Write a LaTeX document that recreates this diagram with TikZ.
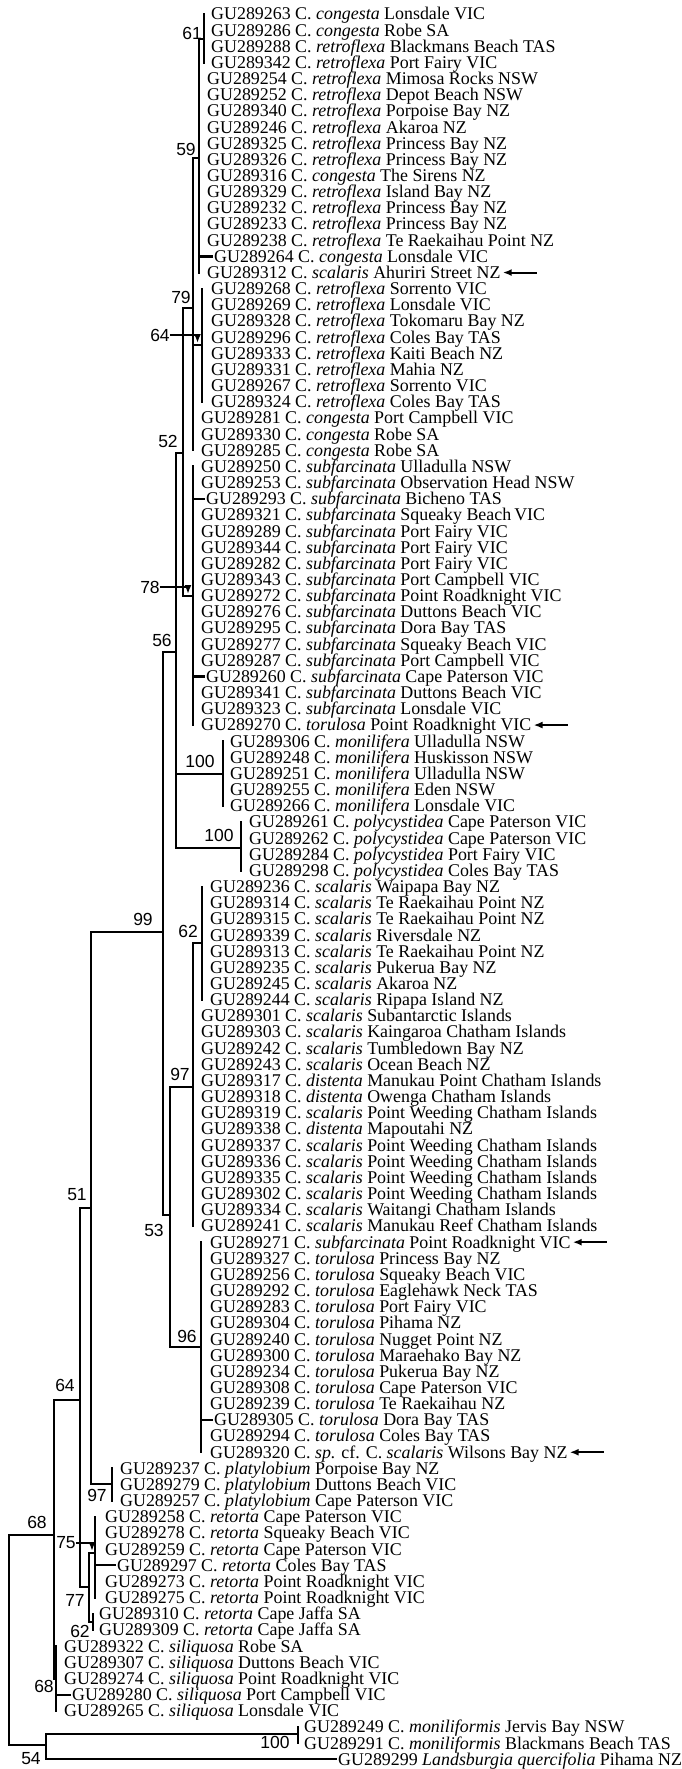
\documentclass[tikz,border=0pt]{standalone}
\usepackage{fontspec}
\setmainfont{Liberation Serif}
\newfontfamily\bsfont{Liberation Sans}
\usetikzlibrary{arrows.meta}
\tikzset{
  leaf/.style={anchor=west, inner xsep=2pt, inner ysep=0pt, text height=11.8pt, text depth=0pt,
    font=\fontsize{17.9}{18}\selectfont},
  bs/.style={inner sep=0pt, font=\bsfont\fontsize{17.5}{18}\selectfont},
  br/.style={line width=2.2pt, line cap=rect},
  pt/.style={line width=2pt, -{Latex[length=9pt,width=7pt]}},
}
\begin{document}
\begin{tikzpicture}[x=1pt, y=-1pt]
  \useasboundingbox (0,0) rectangle (681,1769);
  % taxa
  \foreach \i/\x/\lab in {
    1/209/{GU289263 C. \textit{congesta} Lonsdale VIC},
    2/209/{GU289286 C. \textit{congesta} Robe SA},
    3/209/{GU289288 C. \textit{retroflexa} Blackmans Beach TAS},
    4/209/{GU289342 C. \textit{retroflexa} Port Fairy VIC},
    5/205/{GU289254 C. \textit{retroflexa} Mimosa Rocks NSW},
    6/205/{GU289252 C. \textit{retroflexa} Depot Beach NSW},
    7/205/{GU289340 C. \textit{retroflexa} Porpoise Bay NZ},
    8/205/{GU289246 C. \textit{retroflexa} Akaroa NZ},
    9/205/{GU289325 C. \textit{retroflexa} Princess Bay NZ},
    10/205/{GU289326 C. \textit{retroflexa} Princess Bay NZ},
    11/205/{GU289316 C. \textit{congesta} The Sirens NZ},
    12/205/{GU289329 C. \textit{retroflexa} Island Bay NZ},
    13/205/{GU289232 C. \textit{retroflexa} Princess Bay NZ},
    14/205/{GU289233 C. \textit{retroflexa} Princess Bay NZ},
    15/205/{GU289238 C. \textit{retroflexa} Te Raekaihau Point NZ},
    16/212/{GU289264 C. \textit{congesta} Lonsdale VIC},
    17/205/{GU289312 C. \textit{scalaris} Ahuriri Street NZ},
    18/209/{GU289268 C. \textit{retroflexa} Sorrento VIC},
    19/209/{GU289269 C. \textit{retroflexa} Lonsdale VIC},
    20/209/{GU289328 C. \textit{retroflexa} Tokomaru Bay NZ},
    21/209/{GU289296 C. \textit{retroflexa} Coles Bay TAS},
    22/209/{GU289333 C. \textit{retroflexa} Kaiti Beach NZ},
    23/209/{GU289331 C. \textit{retroflexa} Mahia NZ},
    24/209/{GU289267 C. \textit{retroflexa} Sorrento VIC},
    25/209/{GU289324 C. \textit{retroflexa} Coles Bay TAS},
    26/199/{GU289281 C. \textit{congesta} Port Campbell VIC},
    27/199/{GU289330 C. \textit{congesta} Robe SA},
    28/199/{GU289285 C. \textit{congesta} Robe SA},
    29/199/{GU289250 C. \textit{subfarcinata} Ulladulla NSW},
    30/199/{GU289253 C. \textit{subfarcinata} Observation Head NSW},
    31/204/{GU289293 C. \textit{subfarcinata} Bicheno TAS},
    32/199/{GU289321 C. \textit{subfarcinata} Squeaky Beach\,VIC},
    33/199/{GU289289 C. \textit{subfarcinata} Port Fairy VIC},
    34/199/{GU289344 C. \textit{subfarcinata} Port Fairy VIC},
    35/199/{GU289282 C. \textit{subfarcinata} Port Fairy VIC},
    36/199/{GU289343 C. \textit{subfarcinata} Port Campbell VIC},
    37/199/{GU289272 C. \textit{subfarcinata} Point Roadknight VIC},
    38/199/{GU289276 C. \textit{subfarcinata} Duttons Beach VIC},
    39/199/{GU289295 C. \textit{subfarcinata} Dora Bay TAS},
    40/199/{GU289277 C. \textit{subfarcinata} Squeaky Beach VIC},
    41/199/{GU289287 C. \textit{subfarcinata} Port Campbell VIC},
    42/204/{GU289260 C. \textit{subfarcinata} Cape Paterson VIC},
    43/199/{GU289341 C. \textit{subfarcinata} Duttons Beach VIC},
    44/199/{GU289323 C. \textit{subfarcinata} Lonsdale VIC},
    45/199/{GU289270 C. \textit{torulosa} Point Roadknight VIC},
    46/228/{GU289306 C. \textit{monilifera} Ulladulla NSW},
    47/228/{GU289248 C. \textit{monilifera} Huskisson NSW},
    48/228/{GU289251 C. \textit{monilifera} Ulladulla NSW},
    49/228/{GU289255 C. \textit{monilifera} Eden NSW},
    50/228/{GU289266 C. \textit{monilifera} Lonsdale VIC},
    51/247/{GU289261 C. \textit{polycystidea} Cape Paterson VIC},
    52/247/{GU289262 C. \textit{polycystidea} Cape Paterson VIC},
    53/247/{GU289284 C. \textit{polycystidea} Port Fairy VIC},
    54/247/{GU289298 C. \textit{polycystidea} Coles Bay TAS},
    55/208/{GU289236 C. \textit{scalaris} Waipapa Bay NZ},
    56/208/{GU289314 C. \textit{scalaris} Te Raekaihau Point NZ},
    57/208/{GU289315 C. \textit{scalaris} Te Raekaihau Point NZ},
    58/208/{GU289339 C. \textit{scalaris} Riversdale NZ},
    59/208/{GU289313 C. \textit{scalaris} Te Raekaihau Point NZ},
    60/208/{GU289235 C. \textit{scalaris} Pukerua Bay NZ},
    61/208/{GU289245 C. \textit{scalaris} Akaroa NZ},
    62/208/{GU289244 C. \textit{scalaris} Ripapa Island NZ},
    63/199/{GU289301 C. \textit{scalaris} Subantarctic Islands},
    64/199/{GU289303 C. \textit{scalaris} Kaingaroa Chatham Islands},
    65/199/{GU289242 C. \textit{scalaris} Tumbledown Bay NZ},
    66/199/{GU289243 C. \textit{scalaris} Ocean Beach NZ},
    67/199/{GU289317 C. \textit{distenta} Manukau Point Chatham Islands},
    68/199/{GU289318 C. \textit{distenta} Owenga Chatham Islands},
    69/199/{GU289319 C. \textit{scalaris} Point Weeding Chatham Islands},
    70/199/{GU289338 C. \textit{distenta} Mapoutahi NZ},
    71/199/{GU289337 C. \textit{scalaris} Point Weeding Chatham Islands},
    72/199/{GU289336 C. \textit{scalaris} Point Weeding Chatham Islands},
    73/199/{GU289335 C. \textit{scalaris} Point Weeding Chatham Islands},
    74/199/{GU289302 C. \textit{scalaris} Point Weeding Chatham Islands},
    75/199/{GU289334 C. \textit{scalaris} Waitangi Chatham Islands},
    76/199/{GU289241 C. \textit{scalaris} Manukau Reef Chatham Islands},
    77/208/{GU289271 C. \textit{subfarcinata} Point Roadknight VIC},
    78/208/{GU289327 C. \textit{torulosa} Princess Bay NZ},
    79/208/{GU289256 C. \textit{torulosa} Squeaky Beach VIC},
    80/208/{GU289292 C. \textit{torulosa} Eaglehawk Neck TAS},
    81/208/{GU289283 C. \textit{torulosa} Port Fairy VIC},
    82/208/{GU289304 C. \textit{torulosa} Pihama NZ},
    83/208/{GU289240 C. \textit{torulosa} Nugget Point NZ},
    84/208/{GU289300 C. \textit{torulosa} Maraehako Bay NZ},
    85/208/{GU289234 C. \textit{torulosa} Pukerua Bay NZ},
    86/208/{GU289308 C. \textit{torulosa} Cape Paterson VIC},
    87/208/{GU289239 C. \textit{torulosa} Te Raekaihau NZ},
    88/212/{GU289305 C. \textit{torulosa} Dora Bay TAS},
    89/208/{GU289294 C. \textit{torulosa} Coles Bay TAS},
    90/208/{GU289320 C. \textit{sp.} cf. C. \textit{scalaris} Wilsons Bay NZ},
    91/118/{GU289237 C. \textit{platylobium} Porpoise Bay NZ},
    92/118/{GU289279 C. \textit{platylobium} Duttons Beach VIC},
    93/118/{GU289257 C. \textit{platylobium} Cape Paterson VIC},
    94/103/{GU289258 C. \textit{retorta} Cape Paterson VIC},
    95/103/{GU289278 C. \textit{retorta} Squeaky Beach VIC},
    96/103/{GU289259 C. \textit{retorta} Cape Paterson VIC},
    97/115/{GU289297 C. \textit{retorta} Coles Bay TAS},
    98/103/{GU289273 C. \textit{retorta} Point Roadknight VIC},
    99/103/{GU289275 C. \textit{retorta} Point Roadknight VIC},
    100/97/{GU289310 C. \textit{retorta} Cape Jaffa SA},
    101/97/{GU289309 C. \textit{retorta} Cape Jaffa SA},
    102/62/{GU289322 C. \textit{siliquosa} Robe SA},
    103/62/{GU289307 C. \textit{siliquosa} Duttons Beach VIC},
    104/62/{GU289274 C. \textit{siliquosa} Point Roadknight VIC},
    105/70/{GU289280 C. \textit{siliquosa} Port Campbell VIC},
    106/62/{GU289265 C. \textit{siliquosa} Lonsdale VIC},
    107/302/{GU289249 C. \textit{moniliformis} Jervis Bay NSW},
    108/302/{GU289291 C. \textit{moniliformis} Blackmans Beach TAS},
    109/336/{GU289299 \textit{Landsburgia quercifolia} Pihama NZ}}
    \node[leaf] (L\i) at (\x,{14+(\i-1)*16.16}) {\lab};

  % internal nodes
  \coordinate (n61) at (204,39);
  \coordinate (n59) at (199,158);
  \coordinate (n64a) at (202,345);
  \coordinate (n79) at (193,308);
  \coordinate (n78) at (193,596);
  \coordinate (n52) at (183,453);
  \coordinate (n100a) at (223,774);
  \coordinate (n100b) at (241,848);
  \coordinate (n56) at (176,652);
  \coordinate (n62a) at (202,943);
  \coordinate (n97a) at (193,1087);
  \coordinate (n96) at (201,1347);
  \coordinate (n53) at (170,1215);
  \coordinate (n99) at (163,932);
  \coordinate (n97b) at (112,1484);
  \coordinate (n51) at (91,1208);
  \coordinate (n75) at (95,1553);
  \coordinate (n62b) at (93,1622);
  \coordinate (n77) at (89,1587);
  \coordinate (n64b) at (80,1400);
  \coordinate (n68b) at (56,1679);
  \coordinate (n68a) at (54,1535);
  \coordinate (n100c) at (298,1734);
  \coordinate (n54) at (46,1745);
  \coordinate (root) at (9,1640);

  % branches
  \draw[br] (n61 |- L1) -- (n61 |- L4);
  \draw[br] (n59 |- n61) -- (n59 |- L17);
  \draw[br] (n59 |- n61) -- (n61);
  \draw[br] (n59 |- L16) -- (L16.west);
  \draw[br] (n64a |- L18) -- (n64a |- L25);
  \draw[br] (n79 |- n59) -- (n79 |- L28);
  \draw[br] (n79 |- n59) -- (n59);
  \draw[br] (n79 |- n64a) -- (n64a);
  \draw[br] (n78 |- L29) -- (n78 |- L45);
  \draw[br] (n78 |- L31) -- (L31.west);
  \draw[br] (n78 |- L42) -- (L42.west);
  \draw[br] (n52 |- n79) -- (n52 |- n78);
  \draw[br] (n52 |- n79) -- (n79);
  \draw[br] (n52 |- n78) -- (n78);
  \draw[br] (n100a |- L46) -- (n100a |- L50);
  \draw[br] (n100b |- L51) -- (n100b |- L54);
  \draw[br] (n56 |- n52) -- (n56 |- n100b);
  \draw[br] (n56 |- n52) -- (n52);
  \draw[br] (n56 |- n100a) -- (n100a);
  \draw[br] (n56 |- n100b) -- (n100b);
  \draw[br] (n62a |- L55) -- (n62a |- L62);
  \draw[br] (n97a |- n62a) -- (n97a |- L76);
  \draw[br] (n97a |- n62a) -- (n62a);
  \draw[br] (n96 |- L77) -- (n96 |- L90);
  \draw[br] (n96 |- L88) -- (L88.west);
  \draw[br] (n53 |- n97a) -- (n53 |- n96);
  \draw[br] (n53 |- n97a) -- (n97a);
  \draw[br] (n53 |- n96) -- (n96);
  \draw[br] (n99 |- n56) -- (n99 |- n53);
  \draw[br] (n99 |- n56) -- (n56);
  \draw[br] (n99 |- n53) -- (n53);
  \draw[br] (n97b |- L91) -- (n97b |- L93);
  \draw[br] (n51 |- n99) -- (n51 |- n97b);
  \draw[br] (n51 |- n99) -- (n99);
  \draw[br] (n51 |- n97b) -- (n97b);
  \draw[br] (n75 |- L94) -- (n75 |- L99);
  \draw[br] (n75 |- L97) -- (L97.west);
  \draw[br] (n62b |- L100) -- (n62b |- L101);
  \draw[br] (n77 |- n75) -- (n77 |- n62b);
  \draw[br] (n77 |- n75) -- (n75);
  \draw[br] (n77 |- n62b) -- (n62b);
  \draw[br] (n64b |- n51) -- (n64b |- n77);
  \draw[br] (n64b |- n51) -- (n51);
  \draw[br] (n64b |- n77) -- (n77);
  \draw[br] (n68b |- L102) -- (n68b |- L106);
  \draw[br] (n68b |- L105) -- (L105.west);
  \draw[br] (n68a |- n64b) -- (n68a |- n68b);
  \draw[br] (n68a |- n64b) -- (n64b);
  \draw[br] (n68a |- n68b) -- (n68b);
  \draw[br] (n100c |- L107) -- (n100c |- L108);
  \draw[br] (n54 |- n100c) -- (n54 |- L109);
  \draw[br] (n54 |- n100c) -- (n100c);
  \draw[br] (n54 |- L109) -- (L109.west);
  \draw[br] (root |- n68a) -- (root |- n54);
  \draw[br] (root |- n68a) -- (n68a);
  \draw[br] (root |- n54) -- (n54);

  % support values
  \node[bs] (b61) at (192,33) {61};
  \node[bs] (b59) at (186,149) {59};
  \node[bs] (b79) at (181,297) {79};
  \node[bs] (b64a) at (160,335) {64};
  \node[bs] (b52) at (168,441) {52};
  \node[bs] (b78) at (150,587) {78};
  \node[bs] (b56) at (162,640) {56};
  \node[bs] (b100a) at (200,761) {100};
  \node[bs] (b100b) at (219,835) {100};
  \node[bs] (b99) at (143,919) {99};
  \node[bs] (b62a) at (188,931) {62};
  \node[bs] (b97a) at (180,1074) {97};
  \node[bs] (b51) at (77,1195) {51};
  \node[bs] (b53) at (154,1230) {53};
  \node[bs] (b96) at (187,1336) {96};
  \node[bs] (b64b) at (65,1385) {64};
  \node[bs] (b97b) at (97,1495) {97};
  \node[bs] (b68a) at (37,1522) {68};
  \node[bs] (b75) at (66,1543) {75};
  \node[bs] (b77) at (75,1600) {77};
  \node[bs] (b62b) at (80,1631) {62};
  \node[bs] (b68b) at (44,1686) {68};
  \node[bs] (b100c) at (275,1742) {100};
  \node[bs] (b54) at (31,1759) {54};

  % pointers to small nodes
  \coordinate (t64a) at (197.5,343);
  \coordinate (t78) at (188,594);
  \coordinate (t75) at (92,1551);
  \draw[pt] (b64a.east) -| (t64a);
  \draw[pt] (b78.east) -| (t78);
  \draw[pt] (b75.east) -| (t75);

  % flagged sequences
  \draw[pt] ([xshift=34pt]L17.east) -- (L17.east);
  \draw[pt] ([xshift=34pt]L45.east) -- (L45.east);
  \draw[pt] ([xshift=34pt]L77.east) -- (L77.east);
  \draw[pt] ([xshift=34pt]L90.east) -- (L90.east);
\end{tikzpicture}
\end{document}
